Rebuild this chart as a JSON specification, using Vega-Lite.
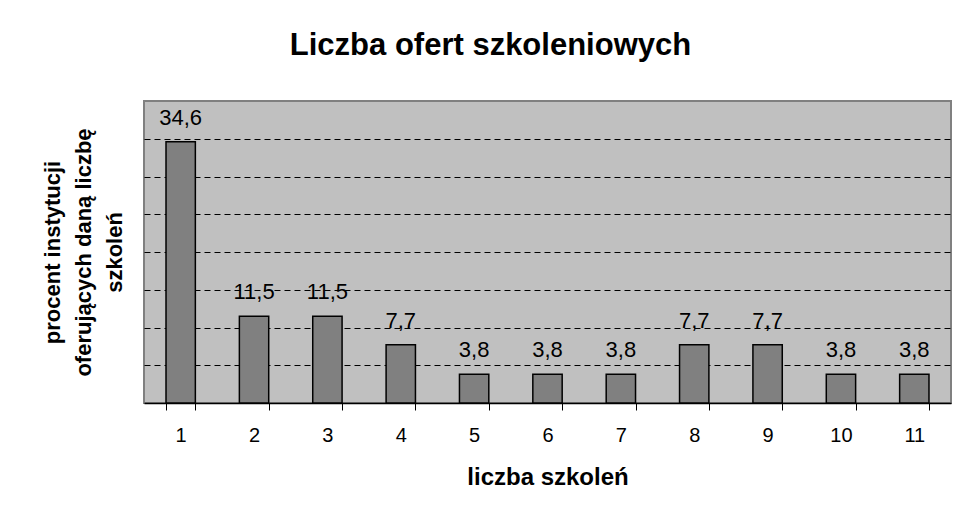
{
  "$schema": "https://vega.github.io/schema/vega-lite/v6.json",
  "autosize": {"type": "none"},
  "width": 807,
  "height": 302,
  "padding": {"left": 144, "top": 101, "right": 3, "bottom": 108},
  "background": "white",
  "config": {
    "font": "Liberation Sans",
    "view": {"fill": "#C0C0C0", "stroke": "#808080", "strokeWidth": 2},
    "locale": {"number": {"decimal": ",", "thousands": " ", "grouping": [3], "currency": ["", " zł"]}}
  },
  "title": {
    "text": "Liczba ofert szkoleniowych",
    "font": "Liberation Sans",
    "fontSize": 31,
    "fontWeight": "bold",
    "color": "black",
    "anchor": "middle",
    "dx": -57,
    "offset": 39
  },
  "data": {
    "values": [
      {"n": "1", "pct": 34.6},
      {"n": "2", "pct": 11.5},
      {"n": "3", "pct": 11.5},
      {"n": "4", "pct": 7.7},
      {"n": "5", "pct": 3.8},
      {"n": "6", "pct": 3.8},
      {"n": "7", "pct": 3.8},
      {"n": "8", "pct": 7.7},
      {"n": "9", "pct": 7.7},
      {"n": "10", "pct": 3.8},
      {"n": "11", "pct": 3.8}
    ]
  },
  "encoding": {
    "x": {
      "field": "n",
      "type": "ordinal",
      "sort": null,
      "scale": {"paddingInner": 0.6, "paddingOuter": 0.3},
      "axis": {
        "title": "liczba szkoleń",
        "titleFontSize": 24,
        "titleFontWeight": "bold",
        "titleColor": "black",
        "titlePadding": 20,
        "labelAngle": 0,
        "labelFontSize": 20,
        "labelColor": "black",
        "labelPadding": 15,
        "tickBand": "extent",
        "tickSize": 7,
        "tickColor": "black",
        "domainColor": "black",
        "domainWidth": 1.5,
        "grid": false
      }
    },
    "y": {
      "field": "pct",
      "type": "quantitative",
      "scale": {"domain": [0, 40], "nice": false},
      "axis": {
        "title": ["procent instytucji", "oferujących daną liczbę", "szkoleń"],
        "titleFontSize": 22,
        "titleFontWeight": "bold",
        "titleColor": "black",
        "titleLineHeight": 31,
        "titlePadding": 18,
        "labels": false,
        "ticks": false,
        "domain": false,
        "values": [5, 10, 15, 20, 25, 30, 35],
        "grid": true,
        "gridColor": "black",
        "gridDash": [6, 4],
        "gridWidth": 1,
        "gridOpacity": 1
      }
    }
  },
  "layer": [
    {
      "mark": {"type": "bar", "color": "#808080", "stroke": "black", "strokeWidth": 1.5}
    },
    {
      "mark": {"type": "text", "fontSize": 22, "color": "black", "baseline": "alphabetic", "dy": -17},
      "encoding": {
        "text": {"field": "pct", "type": "quantitative", "format": ".1f"}
      }
    }
  ]
}
